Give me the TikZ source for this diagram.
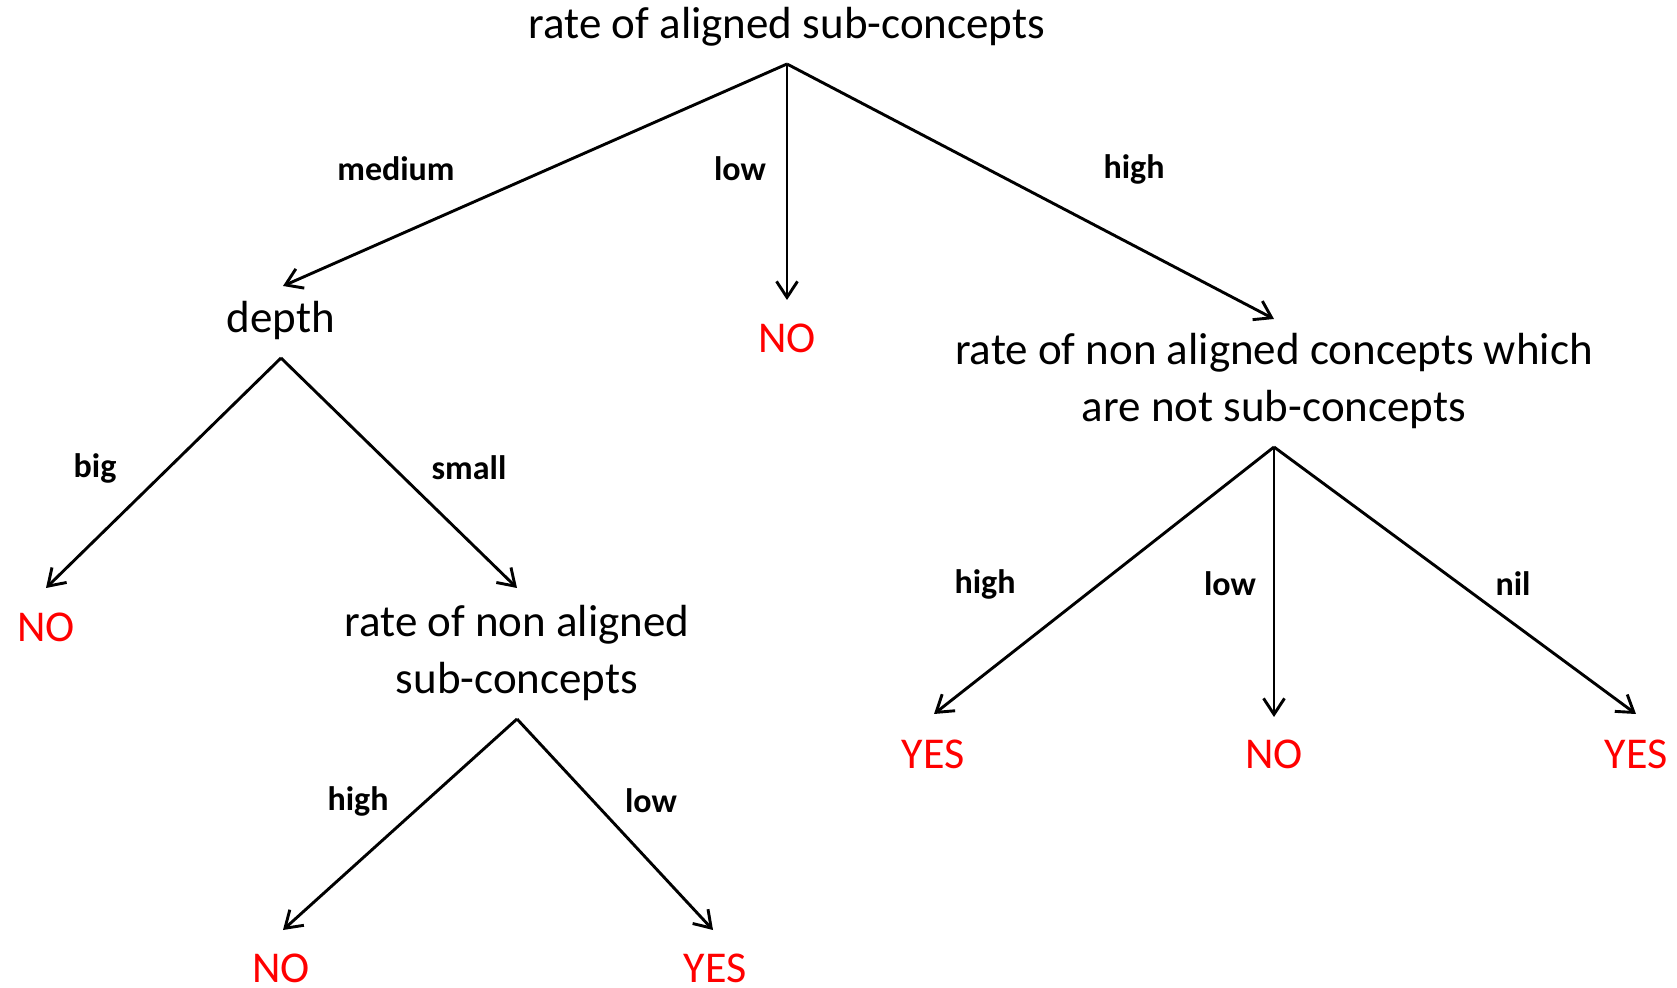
\documentclass[tikz,border=0pt]{standalone}
\usepackage{fontspec}
\setmainfont{Carlito}
\usetikzlibrary{arrows.meta}
\tikzset{
  test/.style={font=\fontsize{22.5}{28.5}\selectfont, align=center, inner sep=0pt},
  answer/.style={font=\fontsize{22}{26}\selectfont, text=red, inner sep=0pt},
  value/.style={font=\bfseries\fontsize{17}{20}\selectfont, inner sep=0pt},
  branch/.style={-{Straight Barb[length=8pt,width=10.5pt]}, line width=1.45pt},
}
\begin{document}
\begin{tikzpicture}[x=0.5pt, y=-0.5pt]
  \useasboundingbox (0,0) rectangle (1677,988);
  % tests
  \node[test] (root)   at (787,27)  {rate of aligned sub-concepts};
  \node[test] (depth)  at (281,321) {depth};
  \node[test] (nonsub) at (517,653) {rate of non aligned\\sub-concepts};
  \node[test] (noncon) at (1274,381) {rate of non aligned concepts which\\are not sub-concepts};
  % answers
  \node[answer] (no1)  at (787,338)  {NO};
  \node[answer] (no2)  at (46,627)   {NO};
  \node[answer] (no3)  at (281,968)  {NO};
  \node[answer] (yes1) at (715,968)  {YES};
  \node[answer] (yes2) at (933,754)  {YES};
  \node[answer] (no4)  at (1274,754) {NO};
  \node[answer] (yes3) at (1636,754) {YES};
  % branch ends
  \coordinate (rootOut)   at (787,64);
  \coordinate (depthOut)  at (281,358);
  \coordinate (nonsubOut) at (517,719);
  \coordinate (nonconOut) at (1274,447);
  \coordinate (depthIn)   at (283,286);
  \coordinate (no1In)     at (787,300);
  \coordinate (nonconIn)  at (1274,319);
  \coordinate (no2In)     at (46,588);
  \coordinate (nonsubIn)  at (517,588);
  \coordinate (no3In)     at (283,930);
  \coordinate (yes1In)    at (713,930);
  \coordinate (yes2In)    at (934,714);
  \coordinate (no4In)     at (1274,717);
  \coordinate (yes3In)    at (1636,714);
  \draw[branch] (rootOut) -- (depthIn);
  \draw[branch] (rootOut) -- (no1In);
  \draw[branch] (rootOut) -- (nonconIn);
  \draw[branch] (depthOut) -- (no2In);
  \draw[branch] (depthOut) -- (nonsubIn);
  \draw[branch] (nonsubOut) -- (no3In);
  \draw[branch] (nonsubOut) -- (yes1In);
  \draw[branch] (nonconOut) -- (yes2In);
  \draw[branch] (nonconOut) -- (no4In);
  \draw[branch] (nonconOut) -- (yes3In);
  % values
  \node[value] (vmedium) at (396,169)  {medium};
  \node[value] (vlow1)   at (740,169)  {low};
  \node[value] (vhigh1)  at (1134,169) {high};
  \node[value] (vbig)    at (95,468)   {big};
  \node[value] (vsmall)  at (469,468)  {small};
  \node[value] (vhigh2)  at (358,801)  {high};
  \node[value] (vlow2)   at (651,801)  {low};
  \node[value] (vhigh3)  at (985,584)  {high};
  \node[value] (vlow3)   at (1230,584) {low};
  \node[value] (vnil)    at (1513,584) {nil};
\end{tikzpicture}
\end{document}
